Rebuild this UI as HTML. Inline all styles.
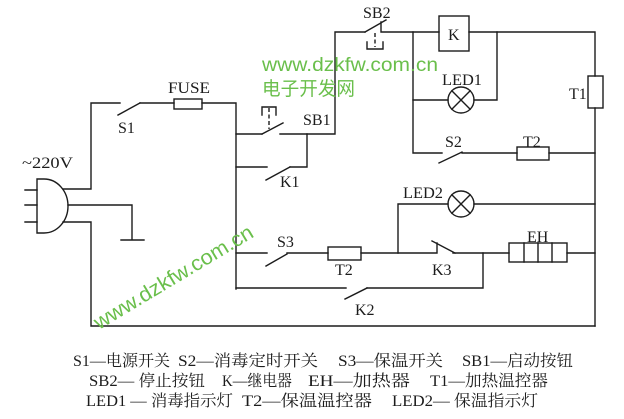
<!DOCTYPE html>
<html><head><meta charset="utf-8"><style>
html,body{margin:0;padding:0;background:#fff;}
svg{display:block;}
</style></head><body>
<svg width="624" height="419" viewBox="0 0 624 419" xmlns="http://www.w3.org/2000/svg">
<rect width="624" height="419" fill="#fff"/>
<g fill="none" stroke="#1c1c1c" stroke-width="1.4" stroke-linecap="square">
  <!-- plug -->
  <path d="M37,179 H44 A24,27 0 0 1 44,233 H37 Z"/>
  <path d="M25,190 H37 M25,205 H37 M25,222 H37"/>
  <path d="M63,189 H91 V103 H120"/>
  <path d="M68,205 H132 V240 M121,240 H144"/>
  <path d="M63,222 H91 V326 H595"/>
  <!-- S1 + fuse -->
  <path d="M118,115 L140,103"/>
  <path d="M140,103 H174"/>
  <rect x="174" y="99" width="28" height="10"/>
  <path d="M202,103 H236 V289"/>
  <!-- SB1 -->
  <path d="M236,134 H262"/>
  <path d="M262,134 L283,123"/>
  <path d="M280,134 H335 V32 H365"/>
  <path d="M262,115 V107 H276 V115"/>
  <path d="M269,108 V129" stroke-dasharray="4,2.5" stroke-linecap="butt"/>
  <!-- K1 -->
  <path d="M236,167 H267"/>
  <path d="M266,180 L290,167"/>
  <path d="M290,167 H307 V134"/>
  <!-- SB2 -->
  <path d="M365,32 L386,20"/>
  <path d="M381,22 V32 H439"/>
  <path d="M375,33 V47" stroke-dasharray="4,2.5" stroke-linecap="butt"/>
  <path d="M367,42 V49 H383 V42"/>
  <!-- K -->
  <rect x="439" y="16" width="30" height="35"/>
  <path d="M469,32 H595 V76"/>
  <rect x="588" y="76" width="15" height="32"/>
  <path d="M595,108 V326"/>
  <path d="M413,32 V153 H442"/>
  <path d="M413,100 H448"/>
  <circle cx="461" cy="100" r="13"/>
  <path d="M451.8,90.8 L470.2,109.2 M470.2,90.8 L451.8,109.2"/>
  <path d="M474,100 H497 V32"/>
  <!-- S2 / T2 -->
  <path d="M439,163 L462,152"/>
  <path d="M462,153 H517"/>
  <rect x="517" y="147" width="32" height="13"/>
  <path d="M549,153 H595"/>
  <!-- LED2 -->
  <circle cx="461" cy="204" r="13"/>
  <path d="M451.8,194.8 L470.2,213.2 M470.2,194.8 L451.8,213.2"/>
  <path d="M474,204 H595"/>
  <path d="M448,204 H398 V253"/>
  <!-- S3 row -->
  <path d="M236,253 H267"/>
  <path d="M266,266 L287,254"/>
  <path d="M287,253 H328"/>
  <rect x="328" y="247" width="33" height="13"/>
  <path d="M361,253 H437 V243"/>
  <path d="M432,241 L455,253"/>
  <path d="M453,253 H509"/>
  <rect x="509" y="243" width="58" height="19"/>
  <path d="M524,243 V262 M538,243 V262 M552,243 V262"/>
  <path d="M567,253 H595"/>
  <path d="M483,253 V288 H367"/>
  <!-- K2 -->
  <path d="M236,288 H346"/>
  <path d="M345,299 L367,288"/>
</g>
<g font-family="'Liberation Serif', serif" font-size="16" fill="#1c1c1c">
  <text x="22" y="168" textLength="51" lengthAdjust="spacingAndGlyphs">~220V</text>
  <text x="168" y="93" textLength="42" lengthAdjust="spacingAndGlyphs">FUSE</text>
  <text x="118" y="133">S1</text>
  <text x="303" y="125">SB1</text>
  <text x="280" y="187">K1</text>
  <text x="363" y="18">SB2</text>
  <text x="448" y="40">K</text>
  <text x="442" y="85" textLength="40" lengthAdjust="spacingAndGlyphs">LED1</text>
  <text x="569" y="99">T1</text>
  <text x="445" y="147">S2</text>
  <text x="523" y="147">T2</text>
  <text x="403" y="198" textLength="40" lengthAdjust="spacingAndGlyphs">LED2</text>
  <text x="527" y="242">EH</text>
  <text x="277" y="247">S3</text>
  <text x="335" y="275">T2</text>
  <text x="432" y="275">K3</text>
  <text x="355" y="315">K2</text>
</g>
<g fill="#6abf4b" font-family="'Liberation Sans', 'Noto Sans CJK SC', sans-serif">
  <text x="262" y="71" font-size="19" textLength="176" lengthAdjust="spacingAndGlyphs">www.dzkfw.com.cn</text>
  <text x="262" y="95" font-size="19" textLength="93" lengthAdjust="spacingAndGlyphs">电子开发网</text>
  <text x="99" y="330" font-size="21" textLength="182" lengthAdjust="spacingAndGlyphs" transform="rotate(-31 99 330)">www.dzkfw.com.cn</text>
</g>
<g font-family="'Liberation Serif', 'Noto Serif CJK SC', serif" font-size="16" fill="#1c1c1c">
  <text x="73" y="366" textLength="97" lengthAdjust="spacingAndGlyphs">S1—电源开关</text>
  <text x="178" y="366" textLength="140" lengthAdjust="spacingAndGlyphs">S2—消毒定时开关</text>
  <text x="338" y="366" textLength="105" lengthAdjust="spacingAndGlyphs">S3—保温开关</text>
  <text x="462" y="366" textLength="111" lengthAdjust="spacingAndGlyphs">SB1—启动按钮</text>
  <text x="89" y="386" textLength="116" lengthAdjust="spacingAndGlyphs">SB2— 停止按钮</text>
  <text x="222" y="386" textLength="70" lengthAdjust="spacingAndGlyphs">K—继电器</text>
  <text x="308" y="386" textLength="102" lengthAdjust="spacingAndGlyphs">EH—加热器</text>
  <text x="430" y="386" textLength="118" lengthAdjust="spacingAndGlyphs">T1—加热温控器</text>
  <text x="86" y="406" textLength="147" lengthAdjust="spacingAndGlyphs">LED1 — 消毒指示灯</text>
  <text x="242" y="406" textLength="130" lengthAdjust="spacingAndGlyphs">T2—保温温控器</text>
  <text x="392" y="406" textLength="146" lengthAdjust="spacingAndGlyphs">LED2— 保温指示灯</text>
</g>
</svg>
</body></html>
